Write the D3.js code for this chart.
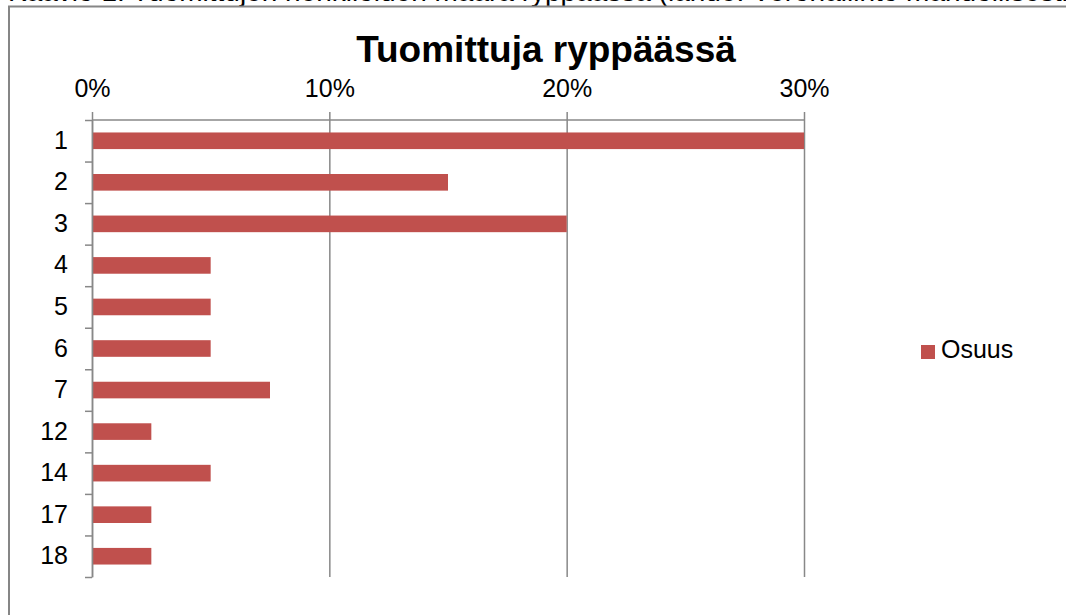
<!DOCTYPE html>
<html>
<head>
<meta charset="utf-8">
<script src="https://cdn.jsdelivr.net/npm/d3@7"></script>
<style>
  body { margin: 0; background: #fff; }
  svg { display: block; font-family: "Liberation Sans", Arial, sans-serif; }
  .grid line { stroke: #888; stroke-width: 1.5; }
  .grid path { display: none; }
  .bounds path, .bounds line { stroke: #888; stroke-width: 1.5; }
  .labels path { display: none; }
</style>
</head>
<body>
<div id="graph"></div>
<script>
const categories = ["1", "2", "3", "4", "5", "6", "7", "12", "14", "17", "18"];
const shares = [0.30, 0.15, 0.20, 0.05, 0.05, 0.05, 0.075, 0.025, 0.05, 0.025, 0.025];
const xTicks = [0, 0.1, 0.2, 0.3];
const seriesName = "Osuus";
const chartTitle = "Tuomittuja ryppäässä";
const caption = "Kaavio 1. Tuomittujen henkilöiden määrä ryppäässä (lähde: Verohallinto mahdollisesti";

const width = 1066, height = 615;
const plot = {left: 92, right: 804, top: 120, bottom: 577};
const barColor = "#C0504D";

const svg = d3.select("#graph")
    .append("svg")
    .attr("width", width)
    .attr("height", height);

// caption cut off at the top of the page, as in the source
svg.append("text")
    .attr("x", 8)
    .attr("y", 1)
    .attr("font-size", 28)
    .style("fill", "#000")
    .text(caption);

// chart area border (runs off the right and bottom edges)
svg.append("rect")
    .attr("x", 9)
    .attr("y", 6.5)
    .attr("width", 1100)
    .attr("height", 700)
    .attr("fill", "#fff")
    .attr("stroke", "#868686")
    .attr("stroke-width", 2);

const xScale = d3.scaleLinear()
    .domain([0, 0.3])
    .range([plot.left, plot.right]);

const yScale = d3.scaleBand()
    .domain(categories)
    .range([plot.top, plot.bottom])
    .paddingInner(0.6)
    .paddingOuter(0.3);

const boundScale = d3.scaleLinear()
    .domain([0, categories.length])
    .range([plot.top, plot.bottom]);

// vertical gridlines with tick labels on top
const xAxis = d3.axisTop(xScale)
    .tickValues(xTicks)
    .tickSizeInner(8)
    .tickSizeOuter(0)
    .tickPadding(15)
    .tickFormat(d3.format(".0%"));

const gx = svg.append("g")
    .attr("class", "grid")
    .attr("transform", "translate(0," + plot.top + ")")
    .call(xAxis);
gx.selectAll(".tick line").attr("y1", plot.bottom - plot.top);
gx.selectAll(".tick text")
    .attr("font-size", 25)
    .style("fill", "#000");

// top axis line
svg.append("line")
    .attr("x1", xScale(0))
    .attr("x2", xScale(0.3))
    .attr("y1", plot.top)
    .attr("y2", plot.top)
    .attr("stroke", "#888")
    .attr("stroke-width", 1.5);

// bars
svg.append("g")
    .selectAll("rect")
    .data(categories)
    .join("rect")
    .attr("x", xScale(0))
    .attr("y", d => yScale(d))
    .attr("width", (d, i) => xScale(shares[i]) - xScale(0))
    .attr("height", yScale.bandwidth())
    .attr("fill", barColor);

// y axis line with ticks on category boundaries
svg.append("g")
    .attr("class", "bounds")
    .attr("transform", "translate(" + plot.left + ",0)")
    .call(d3.axisLeft(boundScale)
        .tickValues(d3.range(categories.length + 1))
        .tickSizeInner(7)
        .tickSizeOuter(0)
        .tickFormat(""));

// category labels
const gy = svg.append("g")
    .attr("class", "labels")
    .attr("transform", "translate(" + plot.left + ",0)")
    .call(d3.axisLeft(yScale).tickSize(0).tickPadding(24));
gy.selectAll(".tick text")
    .attr("font-size", 25)
    .style("fill", "#000");

// title
svg.append("text")
    .attr("x", 546)
    .attr("y", 62)
    .attr("text-anchor", "middle")
    .attr("font-size", 37)
    .attr("font-weight", "bold")
    .style("fill", "#000")
    .text(chartTitle);

// legend
const legend = svg.append("g").attr("transform", "translate(921,345)");
legend.append("rect")
    .attr("width", 14)
    .attr("height", 14)
    .attr("fill", barColor);
legend.append("text")
    .attr("x", 20)
    .attr("y", 13)
    .attr("font-size", 25)
    .style("fill", "#000")
    .text(seriesName);
</script>
</body>
</html>
